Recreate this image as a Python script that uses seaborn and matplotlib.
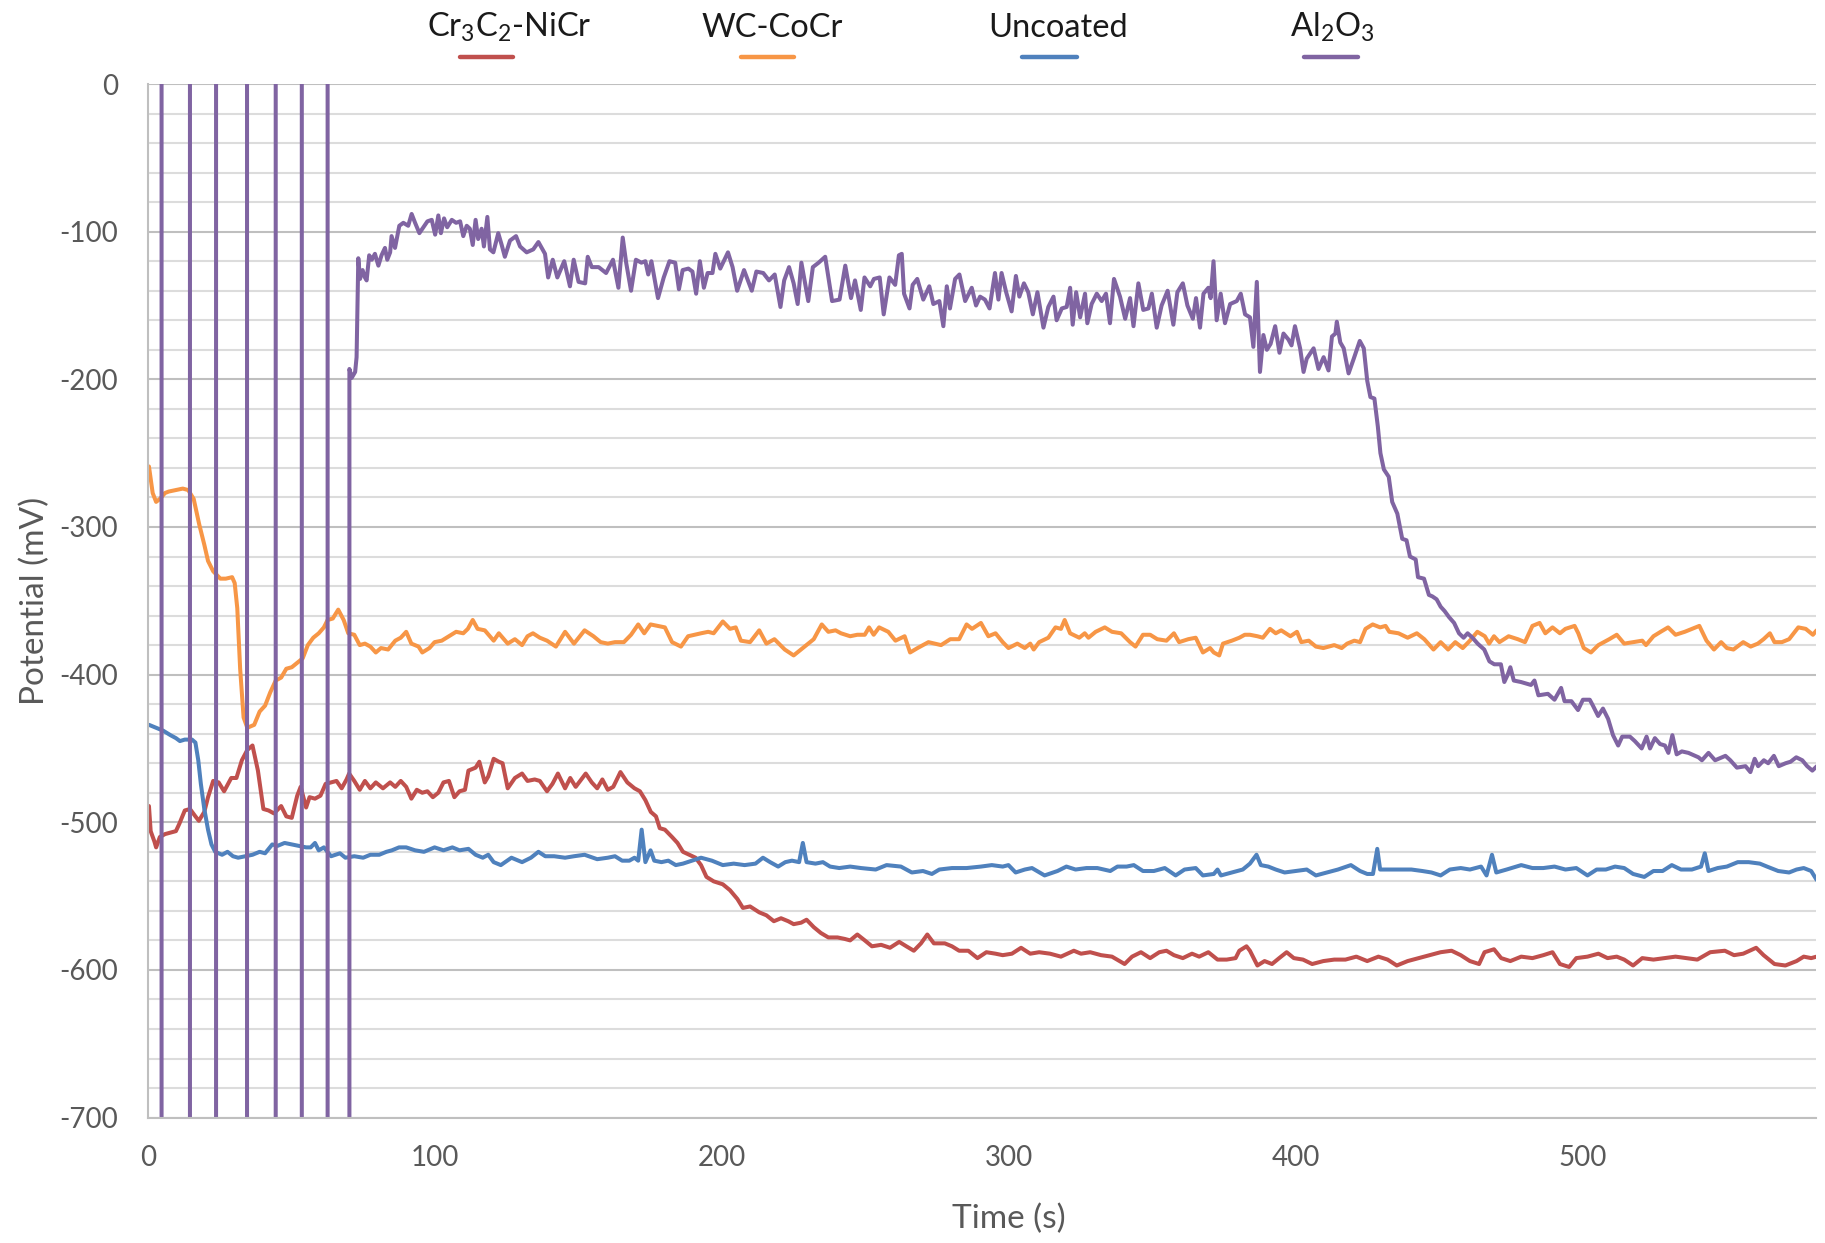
import numpy as np
import pandas as pd
import matplotlib
matplotlib.use("Agg")
import matplotlib.pyplot as plt
from matplotlib.lines import Line2D
from matplotlib.ticker import MultipleLocator
import seaborn as sns

# Style
sns.set_style("white")
plt.rcParams["font.family"] = ["Lato", "DejaVu Sans"]
plt.rcParams["mathtext.fontset"] = "custom"
plt.rcParams["mathtext.rm"] = "Lato"
plt.rcParams["mathtext.default"] = "rm"
plt.rcParams["axes.unicode_minus"] = False

# Series names and colours (legend order)
series_names = ["Cr$_3$C$_2$-NiCr", "WC-CoCr", "Uncoated", "Al$_2$O$_3$"]
series_colors = ["#C0504D", "#F79646", "#4F81BD", "#8064A2"]

# Cr3C2-NiCr (time s, potential mV)
cr_points = [
    (0.2, -489), (0.8, -506), (2.1, -513), (2.7, -517), (4.0, -510), (5.8, -508), (7.7, -507),
    (9.6, -506), (10.8, -501), (12.7, -492), (14.5, -491), (16.4, -496), (17.6, -499), (19.5, -493),
    (20.8, -483), (22.6, -472), (24.5, -473), (26.4, -479), (28.9, -470), (30.7, -470), (32.6, -458),
    (34.5, -451), (36.3, -448), (38.2, -465), (40.1, -491), (41.9, -492), (43.8, -494), (46.3, -489),
    (48.1, -496), (50.0, -497), (51.9, -482), (53.1, -476), (55.0, -490), (56.2, -483), (58.1, -484),
    (60.0, -482), (61.8, -474), (63.7, -473), (65.6, -472), (67.4, -477), (69.1, -471), (70.0, -467),
    (71.8, -472), (73.7, -478), (75.5, -472), (77.4, -477), (79.3, -473), (81.8, -477), (84.3, -473),
    (86.1, -476), (88.0, -472), (89.9, -476), (91.7, -484), (93.6, -478), (95.5, -480), (97.3, -479),
    (99.2, -483), (101.1, -480), (102.9, -473), (104.8, -472), (106.7, -483), (108.5, -479),
    (110.4, -478), (111.6, -465), (114.1, -463), (115.4, -459), (117.3, -473), (118.5, -469),
    (120.4, -457), (122.2, -459), (123.5, -460), (125.3, -477), (127.8, -470), (130.3, -467),
    (132.2, -472), (134.7, -471), (136.5, -472), (139.0, -479), (140.9, -474), (142.8, -467),
    (145.3, -477), (147.1, -470), (149.0, -476), (152.5, -467), (154.6, -473), (156.5, -477),
    (158.3, -471), (160.2, -478), (162.1, -476), (164.6, -466), (167.0, -473), (169.5, -477),
    (171.4, -479), (173.3, -485), (175.2, -493), (177.0, -496), (178.3, -504), (180.1, -505),
    (182.6, -510), (184.5, -514), (186.4, -520), (190.8, -524), (192.7, -529), (194.6, -537),
    (197.1, -540), (200.3, -542), (202.8, -546), (205.4, -552), (207.3, -558), (209.8, -557),
    (213.0, -561), (215.5, -563), (218.1, -567), (220.6, -565), (223.1, -567), (225.0, -569),
    (227.6, -568), (229.5, -566), (232.0, -571), (234.5, -575), (237.1, -578), (240.3, -578),
    (242.8, -579), (244.7, -580), (247.2, -576), (249.8, -580), (252.3, -584), (255.5, -583),
    (258.6, -585), (261.8, -581), (264.3, -584), (266.9, -587), (269.4, -582), (271.6, -576),
    (273.9, -582), (277.7, -582), (280.2, -584), (282.7, -587), (285.9, -587), (289.1, -592),
    (292.2, -588), (295.4, -589), (297.9, -590), (301.1, -589), (304.3, -585), (307.5, -589),
    (310.6, -588), (314.4, -589), (318.2, -591), (322.7, -587), (325.2, -589), (328.4, -588),
    (332.2, -590), (336.0, -591), (340.4, -596), (343.0, -591), (346.1, -588), (349.3, -592),
    (352.5, -588), (355.0, -587), (357.6, -590), (360.7, -592), (363.9, -589), (366.4, -591),
    (369.6, -588), (372.8, -593), (376.0, -593), (379.1, -592), (380.4, -587), (382.9, -584),
    (384.1, -587), (386.7, -597), (389.2, -594), (391.8, -596), (394.3, -592), (396.9, -588),
    (399.4, -592), (402.6, -593), (405.8, -596), (409.7, -594), (413.5, -593), (417.4, -593),
    (421.2, -591), (425.0, -594), (428.9, -591), (432.1, -593), (435.3, -597), (439.1, -594),
    (442.9, -592), (446.8, -590), (450.6, -588), (454.4, -587), (457.6, -590), (460.8, -594),
    (464.0, -596), (465.9, -588), (469.2, -586), (471.7, -592), (474.9, -594), (478.7, -591),
    (482.6, -592), (486.4, -590), (489.6, -588), (492.2, -596), (495.4, -598), (497.9, -592),
    (501.8, -591), (505.6, -589), (508.8, -592), (512.0, -591), (514.6, -593), (517.7, -597),
    (520.9, -592), (524.8, -593), (528.6, -592), (532.5, -591), (536.3, -592), (540.1, -593),
    (544.6, -588), (549.7, -587), (552.9, -590), (556.1, -589), (560.6, -585), (563.2, -590),
    (567.0, -596), (570.8, -597), (574.7, -594), (577.2, -591), (579.8, -592), (581.7, -591),
]

# WC-CoCr
wc_points = [
    (0.2, -259), (1.5, -277), (2.7, -283), (4.0, -281), (5.8, -277), (7.1, -276), (9.6, -275),
    (12.0, -274), (13.9, -275), (15.8, -281), (17.7, -298), (19.5, -312), (20.8, -323), (22.6, -330),
    (25.1, -335), (27.0, -335), (29.2, -334), (30.1, -338), (31.0, -355), (32.0, -396), (33.2, -429),
    (34.5, -436), (36.9, -434), (38.8, -425), (40.7, -421), (42.5, -412), (44.4, -404), (46.3, -402),
    (48.1, -396), (50.0, -395), (51.9, -392), (53.8, -389), (55.6, -380), (57.5, -375), (59.4, -372),
    (61.2, -368), (62.5, -363), (64.3, -362), (66.2, -356), (68.1, -363), (69.7, -372), (71.8, -373),
    (73.7, -380), (75.5, -379), (77.4, -381), (79.3, -385), (81.1, -382), (83.6, -383), (86.1, -377),
    (88.0, -375), (89.9, -371), (91.7, -379), (94.2, -381), (95.5, -385), (98.0, -382), (99.8, -378),
    (102.3, -377), (104.8, -374), (107.3, -371), (109.8, -372), (111.4, -369), (113.1, -363),
    (114.8, -369), (117.3, -370), (120.4, -377), (122.2, -372), (125.3, -379), (127.8, -376),
    (130.3, -380), (132.2, -374), (134.1, -372), (136.5, -375), (139.0, -377), (142.1, -381),
    (145.3, -371), (148.4, -379), (152.1, -370), (155.2, -374), (157.7, -378), (160.2, -379),
    (162.7, -378), (165.8, -378), (168.3, -373), (170.8, -366), (172.9, -372), (175.1, -366),
    (177.6, -367), (180.1, -368), (182.6, -378), (185.7, -381), (188.2, -374), (192.7, -372),
    (195.2, -371), (197.1, -372), (200.3, -364), (202.8, -369), (204.8, -368), (206.6, -377),
    (209.8, -378), (213.0, -370), (215.5, -379), (218.3, -376), (221.9, -383), (225.0, -387),
    (228.2, -382), (232.0, -376), (234.8, -366), (237.1, -371), (239.6, -370), (241.5, -372),
    (244.7, -374), (247.2, -373), (249.8, -373), (251.3, -368), (252.9, -373), (254.8, -368),
    (258.0, -371), (260.5, -377), (263.7, -374), (265.6, -385), (268.2, -382), (272.0, -378),
    (276.4, -380), (279.6, -376), (282.7, -376), (285.3, -366), (287.2, -369), (290.3, -365),
    (292.9, -374), (295.4, -372), (297.9, -378), (299.9, -382), (303.0, -379), (305.6, -382),
    (307.5, -379), (308.7, -383), (310.6, -378), (313.8, -375), (316.3, -368), (318.2, -369),
    (319.5, -363), (321.4, -372), (324.6, -375), (326.5, -372), (327.8, -375), (330.3, -371),
    (333.5, -368), (336.0, -371), (339.2, -372), (342.3, -378), (344.2, -381), (346.8, -373),
    (349.3, -373), (351.8, -376), (355.0, -377), (357.6, -372), (359.4, -378), (362.6, -376),
    (365.2, -375), (367.7, -385), (370.2, -382), (371.5, -385), (373.4, -387), (374.7, -379),
    (377.8, -377), (380.4, -375), (382.3, -373), (384.1, -373), (386.7, -374), (388.6, -375),
    (391.1, -369), (393.1, -372), (395.0, -370), (398.2, -374), (400.5, -371), (402.0, -378),
    (404.6, -377), (407.1, -381), (409.7, -382), (413.5, -380), (416.1, -382), (418.0, -379),
    (420.5, -377), (422.5, -378), (424.4, -369), (426.9, -366), (429.5, -368), (431.4, -367),
    (432.7, -371), (435.9, -372), (439.1, -375), (442.3, -372), (444.9, -376), (448.1, -383),
    (450.6, -378), (453.2, -383), (455.7, -378), (458.3, -382), (460.8, -377), (463.4, -371),
    (466.0, -374), (467.5, -379), (469.2, -374), (471.1, -378), (474.3, -374), (477.5, -376),
    (480.0, -378), (482.6, -367), (485.1, -365), (487.1, -372), (489.6, -368), (492.2, -372),
    (494.1, -369), (497.3, -367), (498.6, -372), (500.5, -382), (503.0, -385), (505.6, -380),
    (509.4, -376), (512.0, -373), (514.6, -379), (517.7, -378), (520.9, -377), (522.2, -380),
    (524.8, -374), (527.3, -371), (529.9, -368), (532.5, -373), (535.7, -371), (538.2, -369),
    (540.8, -367), (543.3, -377), (545.9, -383), (548.4, -378), (550.4, -382), (552.7, -383),
    (556.1, -378), (558.7, -381), (561.2, -379), (563.2, -376), (565.4, -372), (567.0, -378),
    (569.6, -378), (572.1, -376), (575.3, -368), (577.9, -369), (580.4, -373), (581.7, -370),
]

# Uncoated
unc_points = [
    (0.2, -434), (2.7, -436), (5.2, -438), (7.7, -441), (9.6, -443), (11.0, -445), (12.7, -444),
    (15.2, -444), (16.4, -446), (17.4, -458), (18.3, -474), (19.5, -491), (20.8, -505), (22.0, -515),
    (23.3, -520), (25.7, -522), (27.6, -520), (29.5, -523), (31.3, -524), (33.8, -523), (36.3, -522),
    (38.8, -520), (40.7, -521), (43.2, -515), (45.0, -516), (47.5, -514), (50.0, -515), (52.5, -516),
    (55.0, -517), (56.6, -517), (58.1, -514), (59.4, -519), (61.2, -517), (63.7, -523), (66.8, -521),
    (68.7, -524), (71.8, -523), (74.9, -524), (77.4, -522), (80.5, -522), (83.0, -520), (84.9, -519),
    (87.4, -517), (89.9, -517), (93.0, -519), (96.1, -520), (99.8, -517), (102.9, -519), (106.0, -517),
    (108.5, -519), (111.6, -518), (114.1, -522), (116.6, -524), (118.5, -522), (120.4, -527),
    (122.9, -529), (126.6, -524), (130.3, -527), (133.4, -524), (136.0, -520), (138.4, -523),
    (141.5, -523), (145.3, -524), (148.4, -523), (152.1, -522), (156.5, -525), (160.2, -524),
    (162.7, -523), (165.2, -526), (167.7, -526), (169.5, -524), (170.8, -526), (172.0, -505),
    (173.3, -527), (175.1, -519), (176.4, -526), (178.9, -527), (181.3, -526), (183.9, -529),
    (186.4, -528), (189.5, -526), (192.7, -524), (196.5, -526), (200.3, -529), (204.1, -528),
    (207.9, -529), (211.7, -528), (214.3, -524), (216.8, -527), (219.6, -530), (222.1, -527),
    (224.4, -526), (226.9, -527), (228.2, -514), (229.5, -527), (232.6, -528), (235.2, -527),
    (237.7, -530), (240.9, -531), (244.7, -530), (248.5, -531), (253.6, -532), (257.4, -529),
    (262.4, -530), (266.2, -534), (270.1, -533), (273.2, -535), (275.8, -532), (280.2, -531),
    (285.3, -531), (290.3, -530), (294.1, -529), (297.9, -530), (299.9, -529), (302.4, -534),
    (305.6, -532), (308.1, -531), (312.5, -536), (317.0, -533), (320.1, -530), (323.3, -532),
    (327.1, -531), (330.9, -531), (335.4, -533), (337.9, -530), (341.1, -530), (343.6, -529),
    (346.8, -533), (350.6, -533), (354.4, -531), (358.2, -536), (361.3, -532), (365.2, -531),
    (367.7, -536), (371.5, -535), (372.8, -532), (374.0, -536), (377.8, -534), (381.6, -532),
    (384.1, -528), (386.4, -522), (387.9, -529), (390.5, -530), (393.1, -532), (396.2, -534),
    (400.1, -533), (403.9, -532), (407.1, -536), (411.0, -534), (414.8, -532), (419.3, -529),
    (422.5, -533), (425.0, -535), (427.0, -535), (428.5, -518), (429.5, -532), (432.7, -532),
    (436.5, -532), (440.4, -532), (444.2, -533), (447.4, -534), (450.6, -536), (453.8, -532),
    (457.6, -531), (460.8, -532), (464.7, -530), (466.6, -536), (468.5, -522), (470.0, -534),
    (473.6, -532), (478.7, -529), (482.6, -531), (486.4, -531), (490.3, -530), (494.1, -532),
    (497.9, -531), (501.8, -536), (505.0, -532), (508.2, -532), (511.4, -530), (514.6, -531),
    (517.7, -535), (521.6, -537), (524.8, -533), (528.0, -533), (531.2, -529), (534.4, -532),
    (538.2, -532), (541.4, -530), (542.7, -521), (544.0, -533), (547.2, -531), (550.4, -530),
    (554.2, -527), (558.0, -527), (561.9, -528), (564.4, -530), (568.3, -533), (572.1, -534),
    (574.7, -532), (577.2, -531), (579.8, -533), (581.7, -539),
]

# Al2O3: the early readings run off the scale (+/-1000 mV), giving the vertical bars
al_points = [
    (0.0, 1000), (4.6, 1000), (4.6, -1000), (14.5, -1000), (14.5, 1000), (23.6, 1000),
    (23.6, -1000), (34.4, -1000), (34.4, 1000), (44.4, 1000), (44.4, -1000), (53.5, -1000),
    (53.5, 1000), (62.5, 1000), (62.5, -1000), (70.1, -1000),
    (70.1, -193), (70.9, -199), (72.1, -195), (72.6, -185), (73.2, -118), (73.8, -132), (74.7, -126),
    (75.5, -131), (76.1, -133), (77.0, -116), (77.9, -119), (79.0, -115), (80.2, -123), (81.3, -116),
    (82.5, -111), (83.3, -119), (84.3, -114), (84.8, -103), (86.0, -111), (87.5, -96), (88.9, -94),
    (90.6, -96), (91.8, -88), (93.0, -94), (94.5, -101), (95.9, -97), (97.3, -93), (98.8, -92),
    (100.0, -102), (101.1, -89), (102.0, -101), (103.1, -91), (104.2, -97), (105.8, -92), (107.3, -94),
    (108.7, -93), (109.8, -103), (111.0, -96), (112.1, -98), (113.1, -109), (114.1, -92), (115.0, -105),
    (116.2, -98), (117.0, -110), (118.2, -90), (119.1, -112), (120.3, -114), (122.0, -101),
    (123.2, -109), (124.3, -117), (126.1, -106), (128.2, -103), (129.6, -110), (131.9, -114),
    (134.2, -112), (136.0, -107), (138.3, -115), (139.4, -131), (141.0, -119), (142.6, -131),
    (145.0, -120), (147.0, -137), (148.3, -119), (150.0, -134), (152.3, -135), (153.2, -117),
    (154.6, -124), (157.0, -124), (159.6, -128), (162.0, -119), (163.9, -138), (165.4, -104),
    (166.6, -121), (168.3, -140), (170.0, -119), (171.9, -121), (173.3, -120), (174.3, -129),
    (175.4, -120), (177.7, -145), (179.7, -131), (181.7, -120), (183.7, -121), (185.0, -139),
    (186.3, -126), (188.3, -125), (189.7, -127), (191.0, -142), (192.3, -120), (193.7, -138),
    (195.0, -128), (196.7, -128), (197.7, -115), (199.4, -125), (202.1, -114), (203.7, -124),
    (205.3, -140), (207.7, -126), (210.4, -140), (212.0, -127), (214.4, -128), (216.4, -133),
    (218.4, -129), (220.4, -151), (221.7, -133), (223.4, -124), (225.0, -135), (226.4, -149),
    (227.7, -121), (230.1, -147), (231.7, -124), (233.7, -121), (236.0, -117), (238.4, -147),
    (241.0, -146), (243.0, -123), (245.0, -145), (246.4, -133), (248.4, -153), (249.7, -131),
    (251.7, -137), (253.0, -132), (255.0, -131), (256.4, -156), (258.4, -131), (260.4, -136),
    (261.7, -116), (262.7, -115), (263.5, -142), (265.4, -152), (266.5, -136), (268.1, -132),
    (270.2, -146), (272.3, -137), (273.7, -149), (275.8, -147), (277.2, -164), (278.4, -137),
    (279.5, -152), (281.3, -132), (282.8, -129), (284.8, -147), (287.1, -138), (288.6, -150),
    (290.0, -144), (291.7, -146), (293.3, -152), (295.2, -128), (296.4, -146), (297.5, -128),
    (299.1, -141), (301.0, -154), (302.5, -130), (303.7, -144), (305.3, -135), (306.8, -141),
    (308.4, -156), (310.0, -141), (312.1, -165), (313.8, -151), (315.6, -144), (316.7, -160),
    (318.5, -152), (320.2, -151), (321.4, -138), (322.3, -163), (323.5, -141), (324.9, -158),
    (326.6, -142), (327.4, -162), (328.9, -149), (330.7, -142), (332.4, -147), (333.9, -142),
    (335.3, -162), (336.7, -132), (338.8, -144), (340.6, -159), (342.3, -145), (343.5, -164),
    (345.2, -135), (346.9, -153), (348.7, -152), (349.9, -142), (351.6, -165), (353.3, -150),
    (355.4, -140), (357.4, -163), (358.8, -141), (360.7, -135), (362.3, -150), (364.2, -159),
    (365.3, -145), (366.7, -165), (367.9, -142), (369.6, -138), (370.4, -145), (371.4, -120),
    (372.5, -160), (373.9, -142), (375.4, -162), (377.2, -149), (379.5, -147), (380.9, -142),
    (382.4, -156), (384.1, -158), (385.3, -178), (386.5, -134), (387.6, -195), (388.8, -170),
    (390.0, -180), (391.3, -176), (392.9, -164), (394.4, -182), (395.8, -169), (397.5, -173),
    (398.6, -177), (399.8, -164), (401.6, -179), (402.8, -195), (403.9, -186), (406.3, -179),
    (408.0, -193), (409.8, -185), (411.5, -194), (412.7, -171), (413.9, -169), (414.4, -161),
    (415.6, -175), (416.8, -179), (418.5, -196), (420.3, -186), (422.4, -174), (423.8, -179),
    (425.0, -201), (426.1, -212), (427.5, -213), (428.7, -232), (429.6, -250), (430.8, -261),
    (432.5, -266), (433.7, -283), (435.5, -291), (437.2, -308), (438.7, -309), (439.9, -320),
    (441.9, -322), (442.7, -334), (444.8, -335), (446.5, -346), (447.7, -347), (449.2, -349),
    (450.6, -354), (452.0, -357), (453.5, -361), (455.3, -365), (457.0, -372), (458.6, -375),
    (460.0, -372), (461.7, -375), (463.5, -379), (465.8, -383), (467.6, -391), (469.3, -393),
    (471.6, -393), (472.8, -405), (474.0, -400), (474.9, -395), (476.1, -404), (478.6, -405),
    (482.1, -407), (483.3, -404), (484.7, -414), (488.0, -413), (490.3, -417), (492.6, -409),
    (493.8, -418), (496.2, -418), (498.5, -424), (500.2, -417), (502.6, -417), (503.7, -421),
    (505.5, -428), (507.2, -423), (509.0, -430), (510.7, -441), (512.5, -448), (513.9, -442),
    (516.6, -442), (518.3, -445), (520.7, -450), (522.4, -442), (523.6, -450), (525.3, -443),
    (527.1, -447), (528.8, -448), (530.0, -453), (531.4, -441), (532.9, -454), (534.7, -452),
    (537.0, -453), (540.5, -456), (541.7, -458), (544.0, -453), (546.3, -458), (549.9, -455),
    (551.6, -458), (553.9, -463), (556.9, -462), (558.6, -466), (560.1, -457), (561.3, -462),
    (563.3, -458), (564.8, -460), (566.8, -455), (568.5, -462), (570.9, -460), (572.6, -459),
    (574.6, -456), (576.7, -458), (578.4, -462), (580.2, -465), (581.8, -462),
]

x_ticks = [0, 100, 200, 300, 400, 500]
y_ticks = [-700, -600, -500, -400, -300, -200, -100, 0]

# Long-form table for seaborn
frames = []
for name, pts in zip(series_names, [cr_points, wc_points, unc_points, al_points]):
    arr = np.array(pts, dtype=float)
    frames.append(pd.DataFrame({"time": arr[:, 0], "potential": arr[:, 1], "series": name}))
df = pd.concat(frames, ignore_index=True)

fig = plt.figure(figsize=(18.25, 12.43), dpi=100)
ax = fig.add_axes([0.0813, 0.1009, 0.9138, 0.8315])

sns.lineplot(data=df, x="time", y="potential", hue="series", hue_order=series_names,
             palette=series_colors, estimator=None, sort=False, legend=False,
             linewidth=2.9, ax=ax)

ax.set_xlim(0, 581.5)
ax.set_ylim(-700, 0)
ax.set_xticks(x_ticks)
ax.set_yticks(y_ticks)
ax.yaxis.set_minor_locator(MultipleLocator(20))
ax.grid(which="major", axis="y", color="#bfbfbf", linewidth=1.5)
ax.grid(which="minor", axis="y", color="#dcdcdc", linewidth=1.5)
ax.grid(which="major", axis="x", visible=False)
ax.set_axisbelow(True)

for side in ["top", "right"]:
    ax.spines[side].set_visible(False)
for side in ["left", "bottom"]:
    ax.spines[side].set_color("#bfbfbf")
    ax.spines[side].set_linewidth(1.5)

ax.tick_params(axis="both", which="both", length=0, labelsize=20, labelcolor="#595959")
ax.tick_params(axis="x", pad=20)
ax.tick_params(axis="y", pad=22)

ax.set_xlabel("Time (s)", fontsize=24, color="#595959")
ax.set_ylabel("Potential (mV)", fontsize=24, color="#595959")
ax.xaxis.set_label_coords(0.516, -0.083)
ax.yaxis.set_label_coords(-0.059, 0.5)

# Legend across the top: label with a short line swatch below it
legend_text_x = [0.279, 0.423, 0.580, 0.730]
legend_line_x = [(0.252, 0.281), (0.406, 0.435), (0.560, 0.590), (0.7145, 0.744)]
for name, color, tx, (x0, x1) in zip(series_names, series_colors, legend_text_x, legend_line_x):
    fig.text(tx, 0.9702, name, ha="center", va="baseline", fontsize=23.5, color="#1a1a1a")
    fig.add_artist(Line2D([x0, x1], [0.954, 0.954], transform=fig.transFigure,
                          color=color, linewidth=3.2, solid_capstyle="round"))

fig.savefig("out.png", dpi=100)
